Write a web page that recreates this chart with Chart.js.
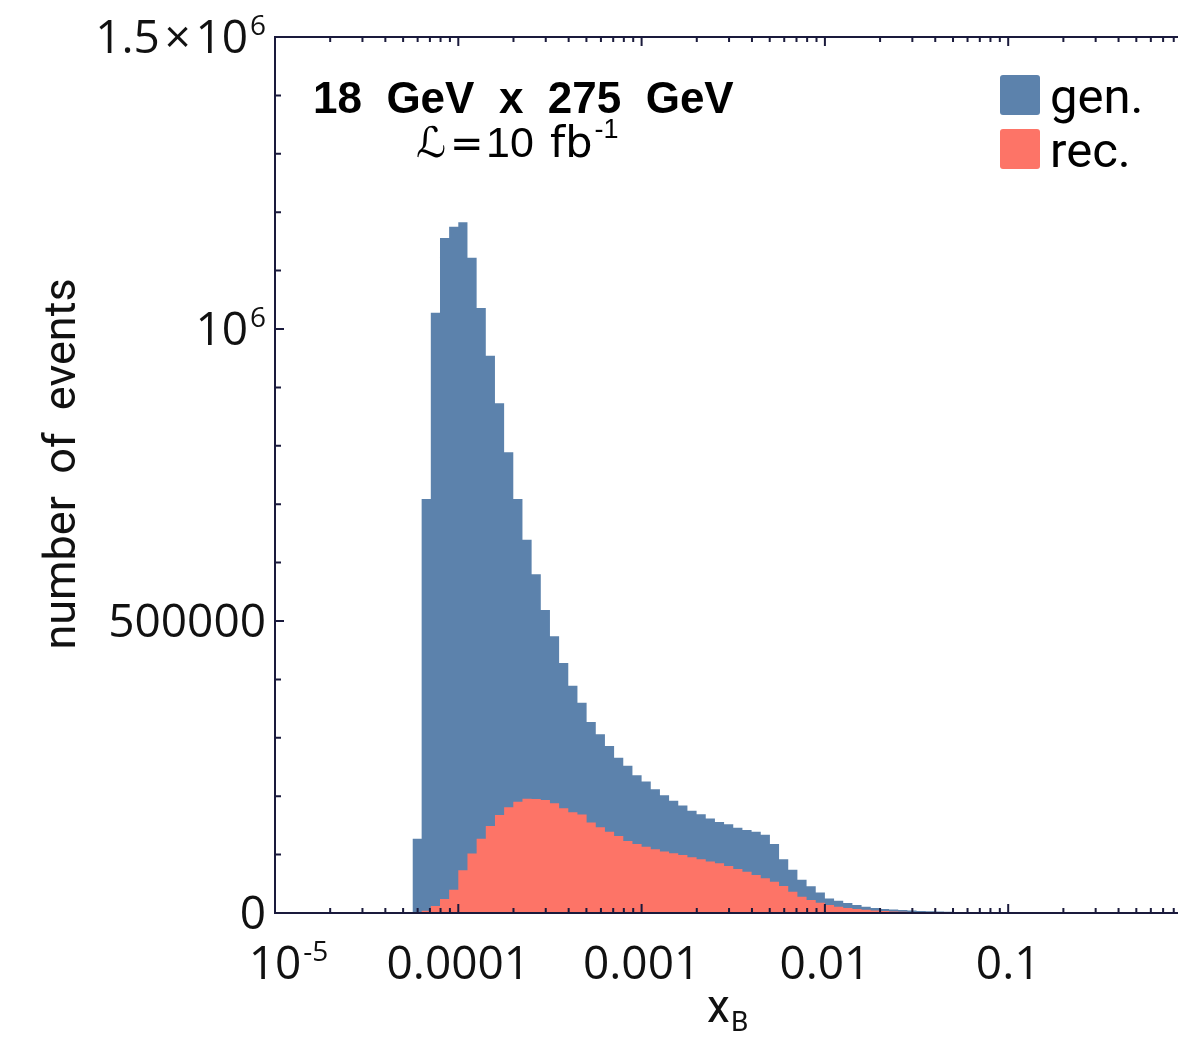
<!DOCTYPE html>
<html>
<head>
<meta charset="utf-8">
<script src="https://cdn.jsdelivr.net/npm/chart.js@4.4.1/dist/chart.umd.min.js"></script>
<style>
  html, body { margin: 0; padding: 0; overflow: hidden; background: #fff; }
  #wrap { width: 1200px; height: 1037px; }
</style>
</head>
<body>
<div id="wrap"><canvas id="xbChart" width="1200" height="1037"></canvas></div>
<script>
// histogram binning: 20 log bins per decade, first edge at 10^-4.25
const binLogStart = -4.25;
const binLogWidth = 0.05;

// generated events per bin
const genCounts = [
    127000, 709000, 1028000, 1156000, 1175000, 1183000, 1122000, 1036000, 954000, 873000,
    789000, 709000, 639000, 580000, 519000, 474000, 428000, 389000, 360000, 327000,
    306000, 286000, 266000, 252000, 236000, 225000, 212000, 201500, 192000, 184000,
    175000, 169000, 162000, 156000, 152000, 146000, 142000, 139000, 134000, 118000,
    92000, 74000, 57000, 46000, 35000, 25000, 21000, 17000, 13500, 10500,
    8500, 7000, 6000, 5000, 4200, 3600, 3000, 2500, 2000, 1500,
    1200, 900, 700, 500, 300, 200
];

// reconstructed events per bin
const recCounts = [
    0, 4000, 12000, 24000, 40000, 73000, 102000, 127000, 149000, 168000,
    181000, 190500, 195500, 195000, 193500, 188000, 179500, 172500, 168500, 155000,
    147000, 139000, 132000, 123500, 118000, 113500, 109000, 105500, 102500, 99300,
    95300, 92000, 88000, 85000, 80500, 75300, 70700, 65000, 59400, 53600,
    46200, 36500, 28000, 22300, 17600, 13700, 10800, 8600, 6800, 5400,
    4300, 3400, 2700, 2100, 1600, 1200, 900, 600, 400, 200
];

const xTickValues = [1e-5, 1e-4, 1e-3, 1e-2, 1e-1];
const xTickLabels = [['10', '-5'], ['0.0001', ''], ['0.001', ''], ['0.01', ''], ['0.1', '']];
const yTickValues = [0, 500000, 1000000, 1500000];
const yTickLabels = [['0', ''], ['500000', ''], ['10', '6'], ['1.5\u200a\u00d7\u200a10', '6']];

const seriesNames = ['gen.', 'rec.'];
const seriesColors = ['#5c82ac', '#fd7467'];

const binEdge = i => Math.pow(10, binLogStart + i * binLogWidth);

// turn bin counts into a closed step outline
const histPoints = counts => {
    const pts = [{ x: binEdge(0), y: 0 }];
    counts.forEach((v, i) => {
        pts.push({ x: binEdge(i), y: v });
        pts.push({ x: binEdge(i + 1), y: v });
    });
    pts.push({ x: binEdge(counts.length), y: 0 });
    return pts;
};

const AXIS = '#1a1a3c';
const tickFont = '46px "Open Sans", "Noto Sans", sans-serif';
const supFont = '28px "Open Sans", "Noto Sans", sans-serif';
const textFont = 'Roboto, "Open Sans", sans-serif';

// base text with optional superscript; 'center' centers the base part
const drawPow = (ctx, base, sup, x, y, align, bf, sf, raise) => {
    ctx.font = bf;
    const wb = ctx.measureText(base).width;
    ctx.font = sf;
    const ws = sup ? ctx.measureText(sup).width + 2 : 0;
    let x0 = x;
    if (align === 'right') x0 = x - wb - ws;
    else if (align === 'center') x0 = x - wb / 2;
    ctx.textAlign = 'left';
    ctx.textBaseline = 'alphabetic';
    ctx.font = bf;
    ctx.fillText(base, x0, y);
    if (sup) {
        ctx.font = sf;
        ctx.fillText(sup, x0 + wb + 2, y - raise);
    }
};

const framePlugin = {
    id: 'frame',
    afterDatasetsDraw(chart) {
        const ctx = chart.ctx;
        const { left, right, top, bottom } = chart.chartArea;
        const xs = chart.scales.x, ys = chart.scales.y;
        ctx.save();

        // frame
        ctx.strokeStyle = AXIS;
        ctx.lineWidth = 2;
        ctx.strokeRect(left, top, right - left, bottom - top);

        // x ticks, bottom and top
        for (let e = -5; e <= -1; e++) {
            for (let m = 1; m <= 9; m++) {
                const px = xs.getPixelForValue(m * Math.pow(10, e));
                const len = m === 1 ? 9 : 5;
                ctx.beginPath();
                ctx.moveTo(px, bottom); ctx.lineTo(px, bottom - len);
                ctx.moveTo(px, top); ctx.lineTo(px, top + len);
                ctx.stroke();
            }
        }
        // y ticks, left and right
        for (let v = 0; v <= 1500000; v += 100000) {
            const py = ys.getPixelForValue(v);
            const len = v % 500000 === 0 ? 9 : 6;
            ctx.beginPath();
            ctx.moveTo(left, py); ctx.lineTo(left + len, py);
            ctx.moveTo(right, py); ctx.lineTo(right - len, py);
            ctx.stroke();
        }

        ctx.fillStyle = '#111';
        // x tick labels
        xTickValues.forEach((v, i) => {
            const px = xs.getPixelForValue(v);
            drawPow(ctx, xTickLabels[i][0], xTickLabels[i][1], px, 979, 'center', tickFont, supFont, 18);
        });
        // y tick labels
        yTickValues.forEach((v, i) => {
            const py = ys.getPixelForValue(v);
            drawPow(ctx, yTickLabels[i][0], yTickLabels[i][1], 266, py + 16, 'right', tickFont, supFont, 18);
        });

        // axis titles
        drawPow(ctx, 'x', '', 707, 1022, 'left', '46px ' + textFont, supFont, 0);
        ctx.font = '28px ' + textFont;
        ctx.fillText('B', 731, 1031);

        ctx.save();
        ctx.translate(75, 464);
        ctx.rotate(-Math.PI / 2);
        ctx.textAlign = 'center';
        ctx.font = '45px ' + textFont;
        ctx.fillText('number  of  events', 0, 0);
        ctx.restore();

        // beam energies and luminosity
        ctx.fillStyle = '#000';
        ctx.textAlign = 'left';
        ctx.font = 'bold 44px "Liberation Sans", Arial, sans-serif';
        ctx.fillText('18  GeV  x  275  GeV', 313, 113);
        ctx.font = '42px "DejaVu Sans", "Liberation Sans", sans-serif';
        ctx.fillText('\u2112', 416, 157);
        ctx.font = '40px "DejaVu Sans", sans-serif';
        ctx.fillText('=', 450, 157);
        ctx.font = '43px "Liberation Sans", sans-serif';
        ctx.fillText('10', 486, 157);
        ctx.font = '43px "DejaVu Sans", sans-serif';
        ctx.fillText('fb', 550, 157);
        const wfb = ctx.measureText('fb').width;
        ctx.font = '27px "Liberation Sans", sans-serif';
        ctx.fillText('-1', 550 + wfb + 2, 138);

        // legend
        seriesNames.forEach((name, i) => {
            const y0 = 75 + i * 54;
            ctx.fillStyle = seriesColors[i];
            ctx.beginPath();
            ctx.roundRect(1000, y0, 40, 40, 3);
            ctx.fill();
            ctx.fillStyle = '#000';
            ctx.font = '49px ' + textFont;
            ctx.fillText(name, 1050, y0 + 38);
        });

        ctx.restore();
    }
};

new Chart(document.getElementById('xbChart'), {
    type: 'line',
    data: {
        datasets: [
            {
                label: seriesNames[0],
                data: histPoints(genCounts),
                backgroundColor: seriesColors[0],
                borderColor: 'rgba(0,0,0,0)',
                borderWidth: 0,
                pointRadius: 0,
                tension: 0,
                fill: 'origin',
                order: 2
            },
            {
                label: seriesNames[1],
                data: histPoints(recCounts),
                backgroundColor: seriesColors[1],
                borderColor: 'rgba(0,0,0,0)',
                borderWidth: 0,
                pointRadius: 0,
                tension: 0,
                fill: 'origin',
                order: 1
            }
        ]
    },
    options: {
        responsive: false,
        animation: false,
        devicePixelRatio: 1,
        layout: { padding: { left: 275, right: 8.5, top: 37, bottom: 124 } },
        plugins: { legend: { display: false }, tooltip: { enabled: false } },
        scales: {
            x: { type: 'logarithmic', min: 1e-5, max: 1, display: false },
            y: { type: 'linear', min: 0, max: 1500000, display: false }
        }
    },
    plugins: [framePlugin]
});
</script>
</body>
</html>
